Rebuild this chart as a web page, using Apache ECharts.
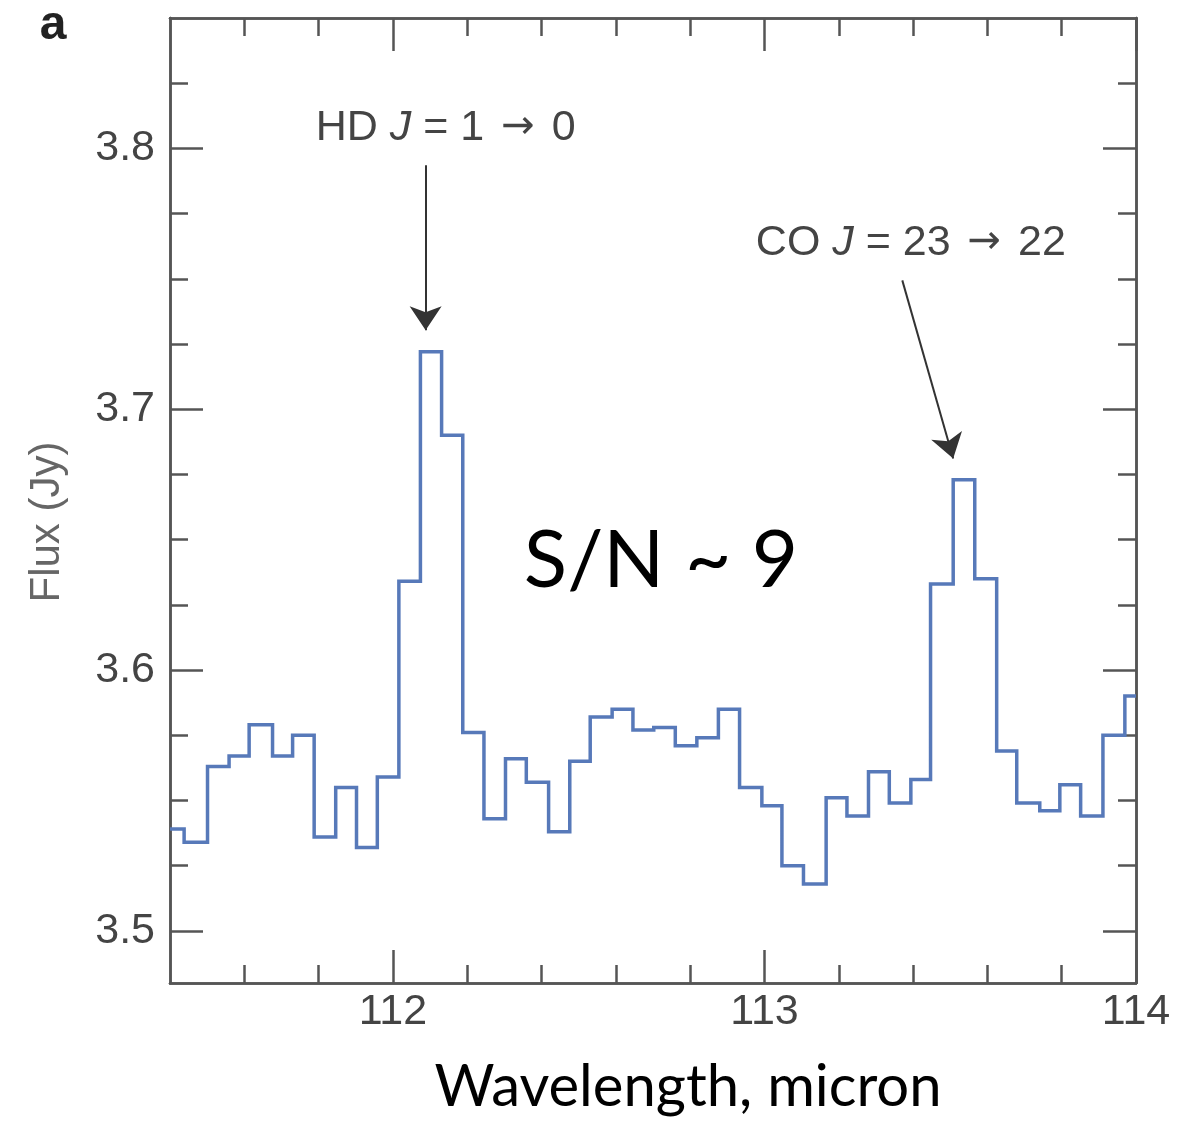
<!DOCTYPE html>
<html>
<head>
<meta charset="utf-8">
<script src="https://cdn.jsdelivr.net/npm/echarts@6/dist/echarts.min.js"></script>
<style>
  html, body { margin: 0; padding: 0; background: #fff; }
  #chart { width: 1181px; height: 1121px; }
</style>
</head>
<body>
<div id="chart"></div>
<script>
// Left edge of each spectral bin (micron) and the flux in that bin (Jy)
const wavelength = [
  111.400, 111.438, 111.501, 111.559, 111.613, 111.676, 111.730, 111.788,
  111.846, 111.902, 111.958, 112.016, 112.074, 112.131, 112.188, 112.245,
  112.303, 112.359, 112.419, 112.476, 112.531, 112.590, 112.646, 112.702,
  112.760, 112.818, 112.876, 112.933, 112.993, 113.047, 113.105, 113.166,
  113.222, 113.280, 113.336, 113.394, 113.447, 113.508, 113.566, 113.625,
  113.679, 113.741, 113.795, 113.851, 113.911, 113.970
];
const flux = [
  3.539, 3.534, 3.563, 3.567, 3.579, 3.567, 3.575, 3.536,
  3.555, 3.532, 3.559, 3.634, 3.722, 3.690, 3.576, 3.543,
  3.566, 3.557, 3.538, 3.565, 3.582, 3.585, 3.577, 3.578,
  3.571, 3.574, 3.585, 3.555, 3.548, 3.525, 3.518, 3.551,
  3.544, 3.561, 3.549, 3.558, 3.633, 3.673, 3.635, 3.569,
  3.549, 3.546, 3.556, 3.544, 3.575, 3.590
];
const spectrumEnd = 114.0;

// Axis ranges and tick positions
const xRange = [111.4, 114.0];
const yRange = [3.48, 3.85];
const xMajorTicks = [112, 113, 114];
const xMinorTicks = [111.6, 111.8, 112.2, 112.4, 112.6, 112.8, 113.2, 113.4, 113.6, 113.8];
const yMajorTicks = [3.5, 3.6, 3.7, 3.8];
const yMinorTicks = [3.525, 3.55, 3.575, 3.625, 3.65, 3.675, 3.725, 3.75, 3.775, 3.825];

// Line identifications: label anchor, arrow tail and arrow tip (micron, Jy)
const hdLabel = [112.142, 3.8079];
const hdArrow = [[112.088, 3.7935], [112.088, 3.7303]];
const coLabel = [113.394, 3.7638];
const coArrow = [[113.371, 3.7494], [113.508, 3.6811]];

const steps = wavelength.map((w, i) => [w, flux[i]]);
steps.push([spectrumEnd, flux[flux.length - 1]]);

const AXIS = '#555';
const SANS = '"Liberation Sans", Arial, Helvetica, sans-serif';
const HUMANIST = 'Lato, "Open Sans", sans-serif';

function frameAxis(kind, position, ticks, length, labels) {
  const range = kind === 'x' ? xRange : yRange;
  return {
    type: 'value',
    gridIndex: 0,
    position: position,
    min: range[0],
    max: range[1],
    axisLine: { show: true, onZero: false, lineStyle: { color: AXIS, width: 2.5 } },
    axisTick: {
      show: true, inside: true, length: length, customValues: ticks,
      lineStyle: { color: AXIS, width: 2.5 }
    },
    axisLabel: labels ? Object.assign({
      show: true, customValues: ticks, color: '#444', fontSize: 43,
      fontFamily: SANS, showMinLabel: true, showMaxLabel: true
    }, labels) : { show: false },
    splitLine: { show: false }
  };
}

const chart = echarts.init(document.getElementById('chart'), null, { renderer: 'canvas' });
chart.setOption({
  animation: false,
  backgroundColor: '#fff',
  grid: { left: 170, right: 45, top: 18, bottom: 138 },
  xAxis: [
    frameAxis('x', 'bottom', xMajorTicks, 33, { margin: 8 }),
    frameAxis('x', 'bottom', xMinorTicks, 18, null),
    frameAxis('x', 'top', xMajorTicks, 33, null),
    frameAxis('x', 'top', xMinorTicks, 18, null)
  ],
  yAxis: [
    frameAxis('y', 'left', yMajorTicks, 33, { margin: 15, formatter: v => v.toFixed(1) }),
    frameAxis('y', 'left', yMinorTicks, 18, null),
    frameAxis('y', 'right', yMajorTicks, 33, null),
    frameAxis('y', 'right', yMinorTicks, 18, null)
  ],
  series: [{
    type: 'line',
    xAxisIndex: 0,
    yAxisIndex: 0,
    step: 'end',
    data: steps,
    symbol: 'none',
    lineStyle: { color: '#5779b9', width: 3.5, join: 'miter' },
    markLine: {
      silent: true,
      symbol: ['none', 'arrow'],
      symbolSize: 24,
      label: { show: false },
      lineStyle: { color: '#333', width: 2, type: 'solid' },
      data: [
        [{ coord: hdArrow[0] }, { coord: hdArrow[1] }],
        [{ coord: coArrow[0] }, { coord: coArrow[1] }]
      ]
    },
    markPoint: {
      silent: true,
      symbol: 'circle',
      symbolSize: 1,
      itemStyle: { color: 'transparent' },
      label: {
        show: true,
        position: 'inside',
        color: '#444',
        fontSize: 43,
        fontFamily: SANS,
        formatter: p => p.name,
        rich: {
          i: { fontStyle: 'italic', fontSize: 43, fontFamily: SANS, color: '#444' },
          arr: { fontSize: 40, fontFamily: '"DejaVu Sans", sans-serif', color: '#444', padding: [0, 5] }
        }
      },
      data: [
        { name: 'HD {i|J} = 1 {arr|\u2192} 0', coord: hdLabel },
        { name: 'CO {i|J} = 23 {arr|\u2192} 22', coord: coLabel }
      ]
    }
  }],
  graphic: [
    {
      type: 'text', x: 53, y: 26, silent: true,
      style: { text: 'a', font: 'bold 48px ' + SANS, fill: '#222', textAlign: 'center', textVerticalAlign: 'middle' }
    },
    {
      type: 'text', x: 47, y: 522, rotation: Math.PI / 2, silent: true,
      style: { text: 'Flux (Jy)', font: '42px ' + SANS, fill: '#666', textAlign: 'center', textVerticalAlign: 'middle' }
    },
    {
      type: 'text', x: 661, y: 561, silent: true,
      style: { text: 'S/N ~ 9', font: '80px ' + HUMANIST, fill: '#000', textAlign: 'center', textVerticalAlign: 'middle' }
    },
    {
      type: 'text', x: 688, y: 1087, silent: true,
      style: { text: 'Wavelength, micron', font: '58px ' + HUMANIST, fill: '#000', textAlign: 'center', textVerticalAlign: 'middle' }
    }
  ]
});
</script>
</body>
</html>
